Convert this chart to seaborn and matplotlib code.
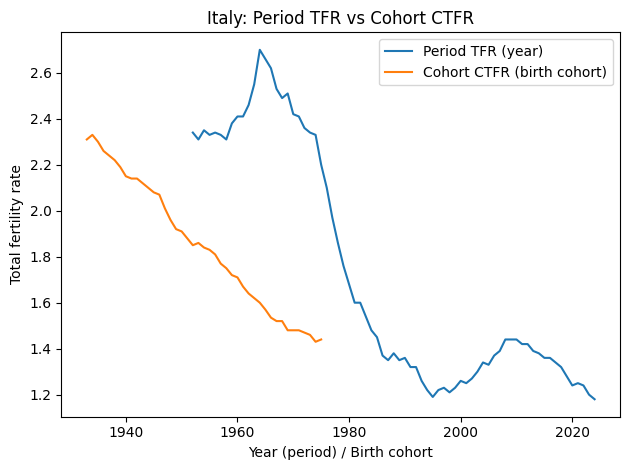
import pandas as pd
import matplotlib.pyplot as plt
import seaborn as sns

# Period TFR by calendar year
period_years = list(range(1952, 2025))
period_tfr = [2.34, 2.31, 2.35, 2.33, 2.34, 2.33, 2.31, 2.38, 2.41, 2.41,
              2.46, 2.55, 2.70, 2.66, 2.62, 2.53, 2.49, 2.51, 2.42, 2.41,
              2.36, 2.34, 2.33, 2.20, 2.10, 1.97, 1.86, 1.76, 1.68, 1.60,
              1.60, 1.54, 1.48, 1.45, 1.37, 1.35, 1.38, 1.35, 1.36, 1.32,
              1.32, 1.26, 1.22, 1.19, 1.22, 1.23, 1.21, 1.23, 1.26, 1.25,
              1.27, 1.30, 1.34, 1.33, 1.37, 1.39, 1.44, 1.44, 1.44, 1.42,
              1.42, 1.39, 1.38, 1.36, 1.36, 1.34, 1.32, 1.28, 1.24, 1.25,
              1.24, 1.20, 1.18]

# Completed cohort fertility by birth cohort
cohort_years = list(range(1933, 1976))
cohort_ctfr = [2.31, 2.33, 2.30, 2.26, 2.24, 2.22, 2.19, 2.15, 2.14, 2.14,
               2.12, 2.10, 2.08, 2.07, 2.01, 1.96, 1.92, 1.91, 1.88, 1.85,
               1.86, 1.84, 1.83, 1.81, 1.77, 1.75, 1.72, 1.71, 1.67, 1.64,
               1.62, 1.60, 1.57, 1.535, 1.52, 1.52, 1.48, 1.48, 1.48, 1.47,
               1.46, 1.43, 1.44]

period_df = pd.DataFrame({'year': period_years, 'tfr': period_tfr})
cohort_df = pd.DataFrame({'year': cohort_years, 'tfr': cohort_ctfr})

fig, ax = plt.subplots(figsize=(6.4, 4.8))
sns.lineplot(data=period_df, x='year', y='tfr', ax=ax, color='#1f77b4', label='Period TFR (year)')
sns.lineplot(data=cohort_df, x='year', y='tfr', ax=ax, color='#ff7f0e', label='Cohort CTFR (birth cohort)')

ax.set_title('Italy: Period TFR vs Cohort CTFR')
ax.set_xlabel('Year (period) / Birth cohort')
ax.set_ylabel('Total fertility rate')
ax.legend(loc='upper right')

plt.tight_layout()
plt.savefig('out.png', dpi=100, bbox_inches='tight')
plt.close()
